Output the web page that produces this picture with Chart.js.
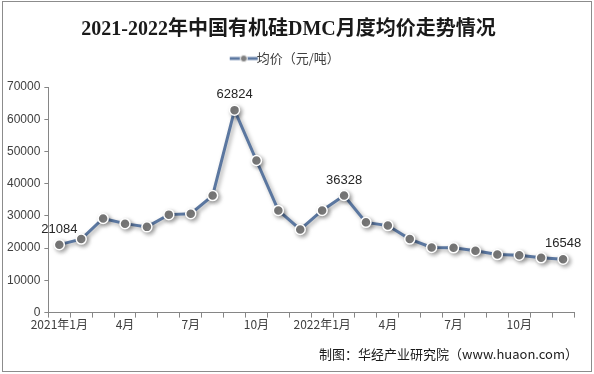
<!DOCTYPE html>
<html lang="zh-CN">
  <head>
    <meta charset="utf-8" />
    <title>2021-2022年中国有机硅DMC月度均价走势情况</title>
    <script src="https://cdn.jsdelivr.net/npm/chart.js"></script>
    <style>
      html, body { margin: 0; padding: 0; background: #fff; }
      .chartBox { width: 594px; height: 374px; position: relative; }
    </style>
  </head>
  <body>
    <div class="chartBox">
      <canvas id="myChart"></canvas>
    </div>
    <script>
      // data
      const months = [
        '2021年1月', '2月', '3月', '4月', '5月', '6月', '7月', '8月', '9月', '10月', '11月', '12月',
        '2022年1月', '2月', '3月', '4月', '5月', '6月', '7月', '8月', '9月', '10月', '11月', '12月'
      ];
      const avgPrice = [
        21084, 22800, 29200, 27600, 26600, 30400, 30700, 36300, 62824, 47200, 31700, 25800,
        31700, 36328, 28000, 27000, 22800, 20200, 20100, 19200, 18000, 17800, 17000, 16548
      ];
      const labelledPoints = [0, 8, 13, 23];
      const yTicks = [0, 10000, 20000, 30000, 40000, 50000, 60000, 70000];

      const lineColor = '#5b77a0';
      const dotColor = '#7f7f7f';
      const cjk = '"Noto Sans CJK SC", "Liberation Sans", sans-serif';

      // legend marker: short line with a dot
      const marker = document.createElement('canvas');
      marker.width = 30; marker.height = 10;
      const mctx = marker.getContext('2d');
      mctx.strokeStyle = lineColor;
      mctx.lineWidth = 3;
      mctx.beginPath(); mctx.moveTo(1, 5); mctx.lineTo(29, 5); mctx.stroke();
      mctx.fillStyle = dotColor;
      mctx.strokeStyle = '#fff';
      mctx.lineWidth = 1;
      mctx.beginPath(); mctx.arc(15, 5, 3.5, 0, Math.PI * 2); mctx.fill(); mctx.stroke();

      // extra room under the legend
      const legendGap = {
        id: 'legendGap',
        beforeInit(chart) {
          const fit = chart.legend.fit;
          chart.legend.fit = function () {
            fit.bind(chart.legend)();
            this.height += 12;
          };
        }
      };

      // shadow under line and points
      const shadowPlugin = {
        id: 'shadowPlugin',
        beforeDatasetsDraw(chart) {
          const ctx = chart.ctx;
          ctx.save();
          ctx.shadowColor = 'rgba(0,0,0,0.35)';
          ctx.shadowBlur = 4;
          ctx.shadowOffsetX = 2;
          ctx.shadowOffsetY = 2;
        },
        afterDatasetsDraw(chart) {
          chart.ctx.restore();
        }
      };

      // value labels, source note, frame
      const extras = {
        id: 'extras',
        afterDraw(chart) {
          const ctx = chart.ctx;
          const meta = chart.getDatasetMeta(0);
          ctx.save();
          ctx.font = '13px "Liberation Sans", Arial, sans-serif';
          ctx.fillStyle = '#262626';
          ctx.textAlign = 'center';
          ctx.textBaseline = 'bottom';
          labelledPoints.forEach(i => {
            const p = meta.data[i];
            ctx.fillText(String(avgPrice[i]), p.x, p.y - 9);
          });

          ctx.font = '13px ' + cjk;
          ctx.fillStyle = '#1a1a1a';
          ctx.textAlign = 'right';
          ctx.textBaseline = 'middle';
          ctx.fillText('制图：华经产业研究院（www.huaon.com）', 578, 354);

          ctx.strokeStyle = '#8c8c8c';
          ctx.lineWidth = 1;
          ctx.strokeRect(2.5, 1.5, 589, 370);
          ctx.restore();
        }
      };

      const config = {
        type: 'line',
        data: {
          labels: months,
          datasets: [{
            label: '均价（元/吨）',
            data: avgPrice,
            borderColor: lineColor,
            borderWidth: 3,
            pointBackgroundColor: dotColor,
            pointBorderColor: '#fff',
            pointBorderWidth: 1.5,
            pointRadius: 5,
            pointStyle: 'circle',
            tension: 0
          }]
        },
        options: {
          responsive: true,
          maintainAspectRatio: false,
          animation: false,
          devicePixelRatio: 1,
          layout: {
            padding: { left: 3, right: 20, top: 12, bottom: 42 }
          },
          plugins: {
            title: {
              display: true,
              text: '2021-2022年中国有机硅DMC月度均价走势情况',
              color: '#1a1a1a',
              font: { size: 20, weight: 'bold', family: '"Liberation Serif", "Noto Sans CJK SC", serif' },
              padding: { top: 6, bottom: 2 }
            },
            legend: {
              display: true,
              labels: {
                usePointStyle: true,
                pointStyle: marker,
                color: '#404040',
                font: { size: 13, family: cjk },
                padding: 8
              }
            },
            tooltip: { enabled: false }
          },
          scales: {
            x: {
              offset: true,
              grid: {
                display: true,
                offset: true,
                drawOnChartArea: false,
                drawTicks: true,
                tickLength: 5,
                color: '#868686'
              },
              border: { color: '#868686' },
              ticks: {
                autoSkip: false,
                maxRotation: 0,
                color: '#404040',
                font: { size: 12, family: cjk },
                padding: 0,
                callback: (v, i) => (i % 3 === 0 ? months[i] : '')
              }
            },
            y: {
              min: 0,
              max: 70000,
              afterBuildTicks: axis => { axis.ticks = yTicks.map(v => ({ value: v })); },
              grid: {
                display: true,
                drawOnChartArea: false,
                drawTicks: true,
                tickLength: 4,
                color: '#868686'
              },
              border: { color: '#868686' },
              ticks: {
                color: '#404040',
                font: { size: 12, family: '"Liberation Sans", Arial, sans-serif' },
                padding: 4,
                callback: v => String(v)
              }
            }
          }
        },
        plugins: [legendGap, shadowPlugin, extras]
      };

      const myChart = new Chart(document.getElementById('myChart'), config);
    </script>
  </body>
</html>
